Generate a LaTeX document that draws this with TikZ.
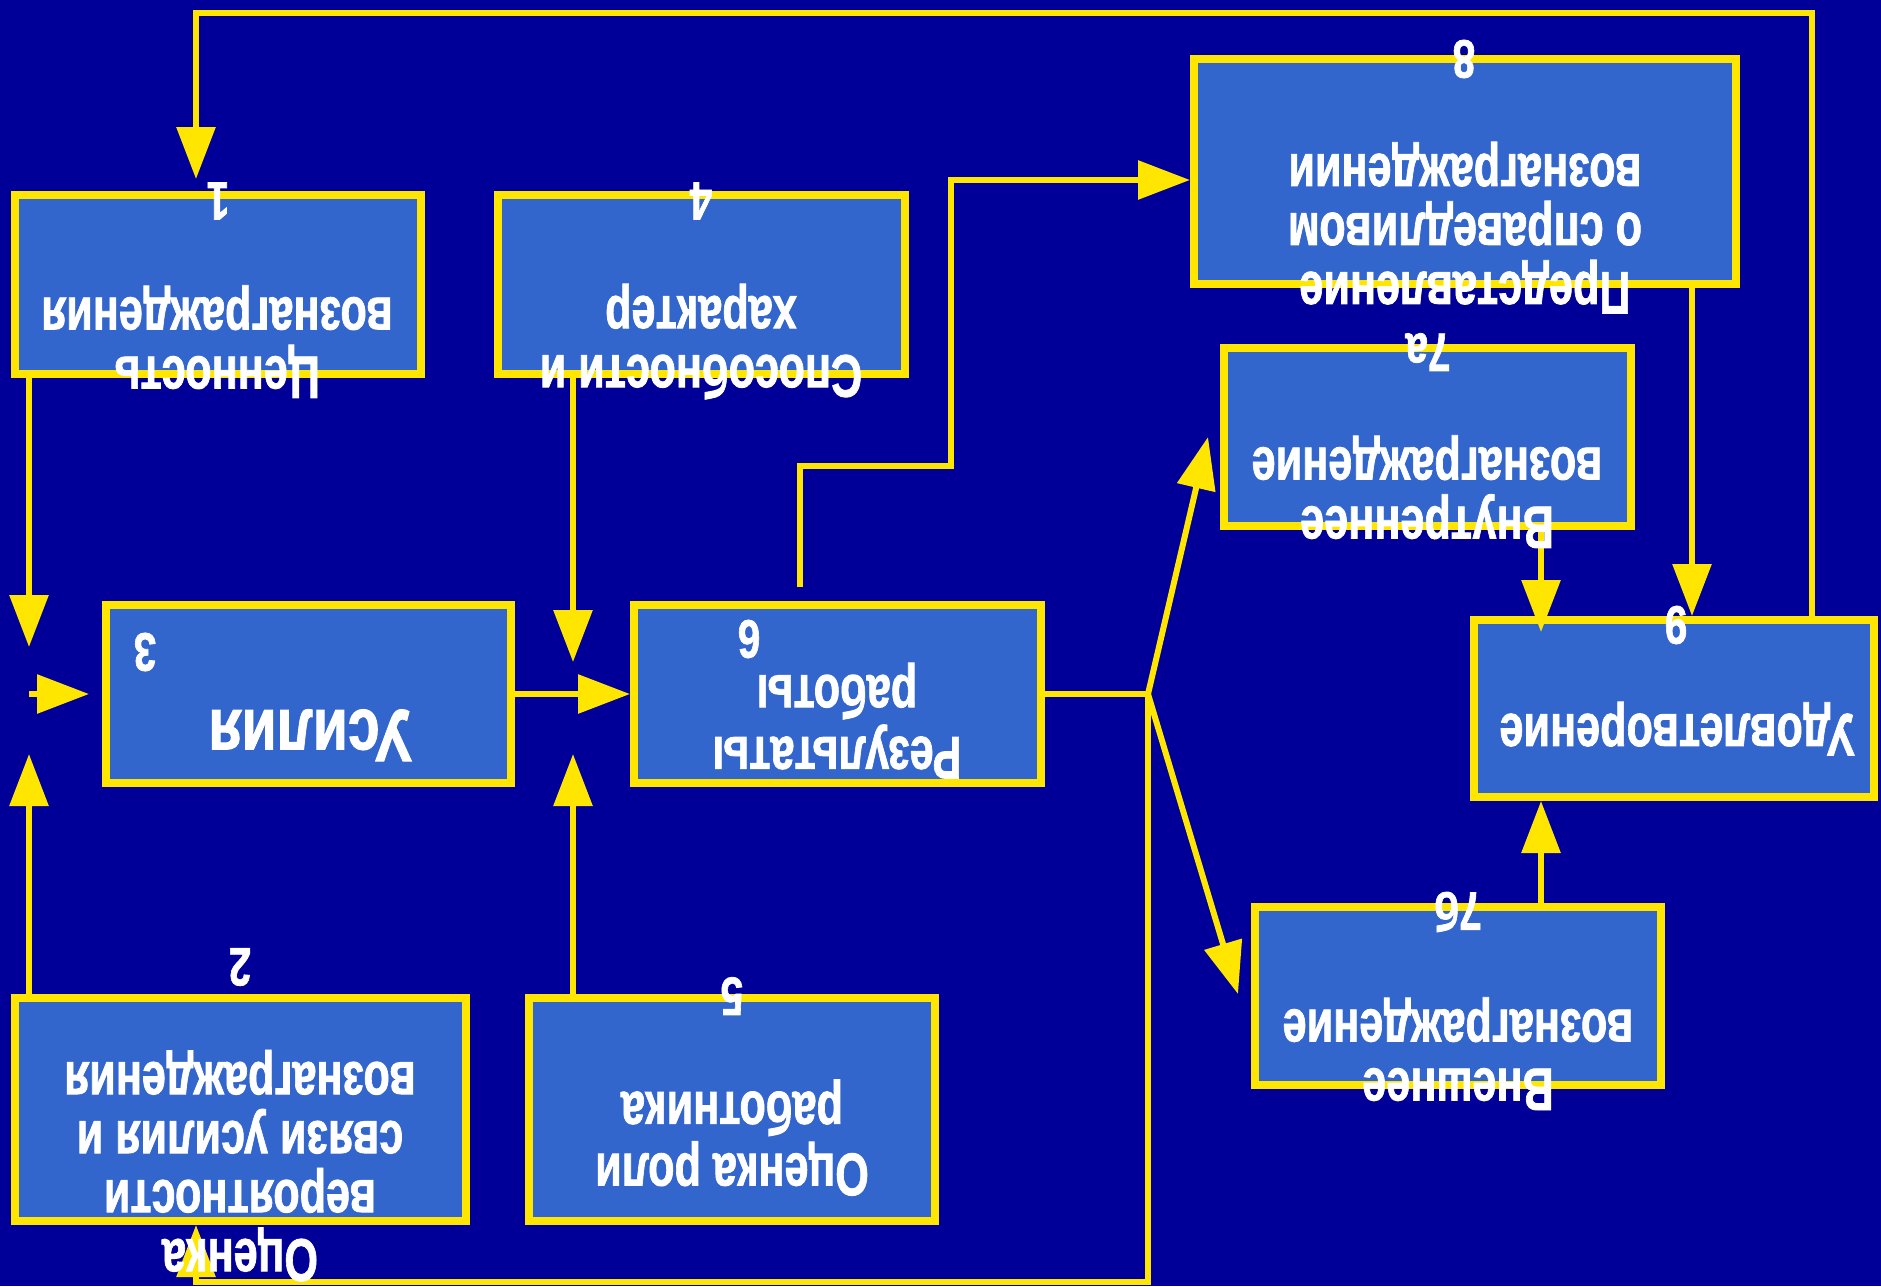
\documentclass[tikz,border=0pt]{standalone}
\usepackage{fontspec}
\setmainfont{Liberation Sans}[BoldFeatures={FakeBold=1.5}]
\usetikzlibrary{arrows.meta}
\definecolor{bgblue}{HTML}{000099}
\definecolor{boxfill}{HTML}{3366CC}
\definecolor{yel}{HTML}{FFE600}
\newcommand{\rtxt}[2][0.72]{\scalebox{-#1}[-1]{\begin{tabular}{@{}c@{}}#2\end{tabular}}}
\newcommand{\rnum}[1]{\scalebox{-0.75}[-1]{#1}}
\begin{document}
\begin{tikzpicture}[x=1pt,y=-1pt,
  box/.style={draw=yel, line width=8pt, fill=boxfill, inner sep=0pt},
  txt/.style={text=white, inner sep=0pt, font=\fontsize{60}{59}\selectfont\bfseries},
  bigtxt/.style={text=white, inner sep=0pt, font=\fontsize{74}{74}\selectfont\bfseries},
  num/.style={text=white, inner sep=0pt, font=\fontsize{54}{54}\selectfont\bfseries},
  con/.style={draw=yel, line width=6pt},
  arr/.style={con, -{Triangle[length=52pt,width=38pt]}}]
\useasboundingbox (0,0) rectangle (1881,1286);
\fill[bgblue] (0,0) rectangle (1881,1286);

% boxes
\node[box, minimum width=406pt, minimum height=179pt] (b1) at (218,284.5) {};
\node[box, minimum width=407pt, minimum height=179pt] (b4) at (701.5,284.5) {};
\node[box, minimum width=542pt, minimum height=225pt] (b8) at (1465,171.5) {};
\node[box, minimum width=407pt, minimum height=178pt] (b7a) at (1427.5,437) {};
\node[box, minimum width=405pt, minimum height=178pt] (b3) at (308.5,694) {};
\node[box, minimum width=407pt, minimum height=178pt] (b6) at (837.5,694) {};
\node[box, minimum width=400pt, minimum height=177pt] (b9) at (1674,708.5) {};
\node[box, minimum width=451pt, minimum height=223pt] (b2) at (240.5,1109.5) {};
\node[box, minimum width=406pt, minimum height=223pt] (b5) at (732,1109.5) {};
\node[box, minimum width=406pt, minimum height=178pt] (b7b) at (1458,996) {};

% coordinates
\coordinate (cTopR) at (1812,13);
\coordinate (cTopL) at (196,13);
\coordinate (tA) at (196,179);
\coordinate (xL) at (29,694);
\coordinate (tB) at (29,647);
\coordinate (tC) at (29,754);
\coordinate (tD) at (89,694);
\coordinate (xM) at (573,694);
\coordinate (tF) at (573,662);
\coordinate (tG) at (573,754);
\coordinate (h0) at (800,587);
\coordinate (h1) at (800,466);
\coordinate (h2) at (951,466);
\coordinate (h3) at (951,180);
\coordinate (j) at (1148,694);
\coordinate (tJ) at (1208,437);
\coordinate (tK) at (1238,994);
\coordinate (l1) at (1148,1282);
\coordinate (l2) at (196,1282);
\coordinate (xR) at (1692,0);
\coordinate (xQ) at (1541,632);

% connectors
\draw[arr] (b9.north -| cTopR) -- (cTopR) -- (cTopL) -- (tA);
\draw[arr] (b1.south -| xL) -- (tB);
\draw[arr] (b2.north -| xL) -- (tC);
\draw[arr] (xL) -- (tD);
\draw[arr] (b3.east) -- (b6.west);
\draw[arr] (b4.south -| xM) -- (tF);
\draw[arr] (b5.north -| xM) -- (tG);
\draw[arr] (h0) -- (h1) -- (h2) -- (h3) -- (b8.west |- h3);
\draw[con] (b6.east) -- (j);
\draw[arr] (j) -- (tJ);
\draw[arr] (j) -- (tK);
\draw[arr] (j) -- (l1) -- (l2) -- (b2.south -| l2);
\draw[arr] (b8.south -| xR) -- (b9.north -| xR);
\draw[arr] (b7a.south -| xQ) -- (xQ);
\draw[arr] (b7b.north -| xQ) -- (b9.south -| xQ);

% texts
\node[txt] (t1) at (217,339) {\rtxt{Ценность\\вознаграждения}};
\node[num] (n1) at (218,201) {\rnum{1}};
\node[txt] (t4) at (701,339) {\rtxt{Способности и\\характер}};
\node[num] (n4) at (701,201) {\rnum{4}};
\node[txt] (t8) at (1465,225) {\rtxt{Представление\\о справедливом\\вознаграждении}};
\node[num] (n8) at (1464,59) {\rnum{8}};
\node[txt] (t7a) at (1427,489) {\rtxt{Внутреннее\\вознаграждение}};
\node[num] (n7a) at (1428,352) {\rnum{7а}};
\node[bigtxt] (t3) at (310,725) {\rtxt[0.77]{Усилия}};
\node[num] (n3) at (145,652) {\rnum{3}};
\node[txt] (t6) at (837,718) {\rtxt{Результаты\\работы}};
\node[num] (n6) at (749,639) {\rnum{6}};
\node[txt] (t9) at (1677,726) {\rtxt{Удовлетворение}};
\node[num] (n9) at (1676,625) {\rnum{9}};
\node[txt] (t2) at (240,1163) {\rtxt{Оценка\\вероятности\\связи усилия и\\вознаграждения}};
\node[num] (n2) at (240,967) {\rnum{2}};
\node[txt] (t5) at (732,1135) {\rtxt{Оценка роли\\работника}};
\node[num] (n5) at (732,996) {\rnum{5}};
\node[txt] (t7b) at (1458,1051) {\rtxt{Внешнее\\вознаграждение}};
\node[num] (n7b) at (1458,912) {\rnum{7б}};
\end{tikzpicture}
\end{document}
